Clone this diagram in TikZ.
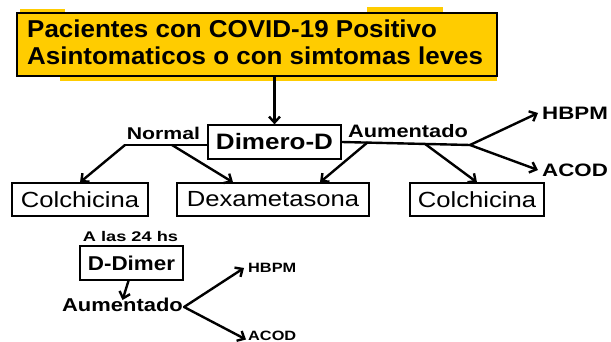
\documentclass[tikz,border=0pt]{standalone}
\usepackage{fontspec}
\setmainfont{Liberation Sans}
\usepackage{graphicx}
\usetikzlibrary{arrows.meta,calc}
\definecolor{ylw}{HTML}{FFCC00}
\newcommand\sx[3]{\scalebox{#2}[1]{\fontsize{#1}{#1}\selectfont #3}}
\begin{document}
\begin{tikzpicture}[x=1pt,y=-1pt,
  box/.style={draw,line width=1.3pt,inner sep=0pt},
  arr/.style={line width=2.4pt,-{Straight Barb[length=6pt,width=11pt]},line cap=round},
  ln/.style={line width=2.4pt,line cap=round},
  lbl/.style={inner sep=0pt}]
\useasboundingbox (0,0) rectangle (611,342);
% yellow highlight strokes
\fill[ylw] (20,9) rectangle (65,14);
\fill[ylw] (367,7) rectangle (443,14);
\fill[ylw] (60,75) rectangle (497,81);
\node[box,fill=ylw,line width=2pt,minimum width=480pt,minimum height=63pt] (top) at (257,44.5) {};
\node[lbl,anchor=base west] (t1) at (27,38) {\sx{24.4}{1.064}{\bfseries Pacientes con COVID-19 Positivo}};
\node[lbl,anchor=base west] (t2) at (27,65) {\sx{24.4}{1.064}{\bfseries Asintomaticos o con simtomas leves}};
% Dimero-D
\node[box,minimum width=133pt,minimum height=34pt] (dim) at (274.5,142) {\sx{22.3}{1.166}{\bfseries Dimero-D}};
\draw[arr] (dim.north |- top.south) -- (dim.north);
% Normal branch
\node[lbl,anchor=base] (nor) at (163.5,139.5) {\sx{17}{1.25}{\bfseries Normal}};
\coordinate (nL) at (125,145);
\coordinate (nM) at (172,145);
\draw[ln] (dim.west |- nL) -- (nL);
% bottom row boxes
\node[box,minimum width=136pt,minimum height=33pt] (colL) at (80,199.5) {\sx{21.9}{1.17}{Colchicina}};
\node[box,minimum width=192pt,minimum height=33pt] (dex) at (273,199.5) {\sx{21.9}{1.17}{Dexametasona}};
\node[box,minimum width=134pt,minimum height=33pt] (colR) at (477,199.5) {\sx{21.9}{1.17}{Colchicina}};
\draw[arr] (nL) -- (colL.north);
\draw[arr] (nM) -- ([xshift=-40pt]dex.north);
% Aumentado branch
\node[lbl,anchor=base] (aum) at (408,137.5) {\sx{18}{1.21}{\bfseries Aumentado}};
\coordinate (sp) at (470,145);
\draw[ln] (dim.east) -- (sp);
\draw[arr] ($(dim.east)!0.2!(sp)$) -- ([xshift=47pt]dex.north);
\draw[arr] ($(dim.east)!0.65!(sp)$) -- (colR.north);
\node[lbl,anchor=west] (hb) at (542,113) {\sx{18}{1.24}{\bfseries HBPM}};
\node[lbl,anchor=west] (ac) at (542,170) {\sx{18}{1.24}{\bfseries ACOD}};
\draw[arr] (sp) -- ([xshift=-4pt]hb.west);
\draw[arr] (sp) -- ([xshift=-4pt]ac.west);
% 24 h part
\node[lbl,anchor=base] (a24) at (130.5,241) {\sx{14}{1.30}{\bfseries A las 24 hs}};
\node[box,line width=1.5pt,minimum width=103pt,minimum height=34pt] (dd) at (131.5,263) {\sx{20}{1.12}{\bfseries D-Dimer}};
\node[lbl,anchor=base] (au2) at (122.5,311) {\sx{18.6}{1.18}{\bfseries Aumentado}};
\draw[arr] ([xshift=-3pt]dd.south) -- ($(au2.base)+(0,-11)$);
\coordinate (s2) at ($(au2.base east)+(1,-4)$);
\node[lbl,anchor=west] (hb2) at (248,268) {\sx{13.5}{1.21}{\bfseries HBPM}};
\node[lbl,anchor=base west] (ac2) at (248,340.5) {\sx{13.5}{1.21}{\bfseries ACOD}};
\draw[arr] (s2) -- ([xshift=-4pt]hb2.west);
\draw[arr] (s2) -- ($(ac2.base west)+(-2,-1)$);
\end{tikzpicture}
\end{document}
